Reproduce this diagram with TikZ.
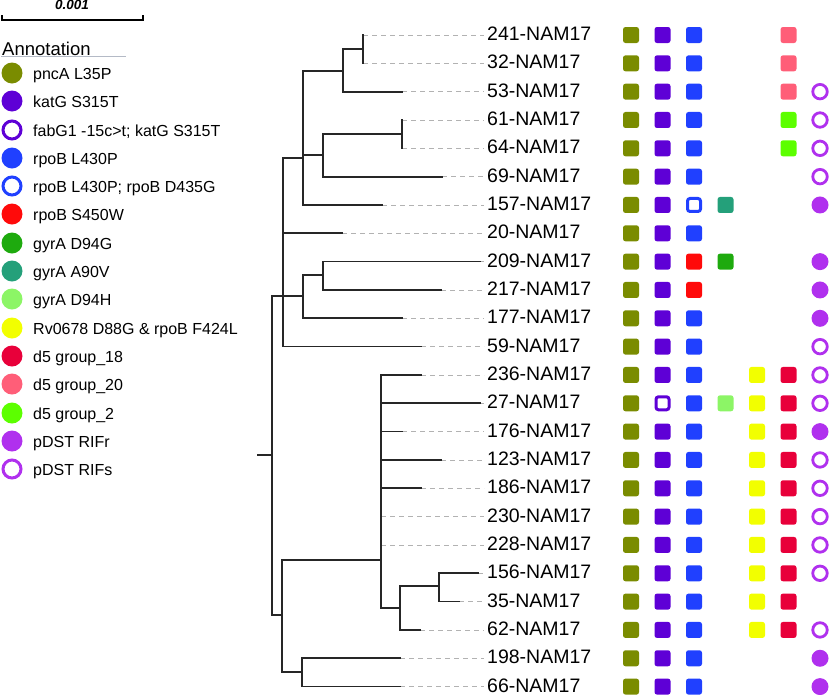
\documentclass[tikz,border=0pt]{standalone}
\usepackage{fontspec}
\setmainfont{Liberation Sans}
\usetikzlibrary{positioning}
\definecolor{PncColor}{HTML}{7A8C00}
\definecolor{KatColor}{HTML}{5E00D6}
\definecolor{RpoColor}{HTML}{2040FF}
\definecolor{RpwColor}{HTML}{FF0A0A}
\definecolor{GygColor}{HTML}{1EAA0E}
\definecolor{GyvColor}{HTML}{24A07A}
\definecolor{GyhColor}{HTML}{8CF566}
\definecolor{RvColor}{HTML}{F2FF00}
\definecolor{DeaColor}{HTML}{E8003A}
\definecolor{DebColor}{HTML}{FF5E78}
\definecolor{DecColor}{HTML}{5CFF00}
\definecolor{RifColor}{HTML}{B030EE}
\definecolor{RuleGray}{HTML}{B4BAC6}

\tikzset{
  branch/.style={line width=1.7pt, black!85, line cap=rect},
  dashln/.style={line width=0.8pt, black!30, dash pattern=on 5pt off 4pt},
  tiplab/.style={anchor=base west, inner xsep=3pt, inner ysep=0pt, font=\fontsize{19.5}{22}\selectfont},
  lgtxt/.style={anchor=base west, inner xsep=2pt, inner ysep=0pt, font=\fontsize{16}{18}\selectfont},
  sq/.style={rectangle, rounded corners=2.5pt, minimum size=16pt, inner sep=0pt, fill=#1},
  sqo/.style={rectangle, rounded corners=2.5pt, minimum size=13pt, inner sep=0pt, draw=#1, line width=3pt},
  dot/.style={circle, minimum size=17pt, inner sep=0pt, fill=#1},
  ring/.style={circle, minimum size=14.5pt, inner sep=0pt, draw=#1, line width=2.8pt},
  lgdot/.style={circle, minimum size=21pt, inner sep=0pt, fill=#1},
  lgring/.style={circle, minimum size=18pt, inner sep=0pt, draw=#1, line width=3pt},
  pnc/.style={sq=PncColor}, kat/.style={sq=KatColor}, katf/.style={sqo=KatColor},
  rpo/.style={sq=RpoColor}, rpof/.style={sqo=RpoColor}, rpw/.style={sq=RpwColor},
  gyg/.style={sq=GygColor}, gyv/.style={sq=GyvColor}, gyh/.style={sq=GyhColor},
  rvz/.style={sq=RvColor}, dea/.style={sq=DeaColor}, deb/.style={sq=DebColor},
  dec/.style={sq=DecColor}, rifr/.style={dot=RifColor}, rifs/.style={ring=RifColor}
}

\begin{document}
\begin{tikzpicture}[x=1pt, y=-1pt]
  \useasboundingbox (0,0) rectangle (830,694);

  % scale bar
  \coordinate (sb0) at (2,15);
  \coordinate (sb1) at (143,15);
  \draw[line width=1.3pt] (sb0) -- ++(0,5) -| (sb1);
  \node[font=\fontsize{13.5}{15}\selectfont\bfseries\itshape, inner sep=0pt] (sbl) at (72,5) {0.001};

  % legend
  \node[anchor=base west, inner sep=1pt, font=\fontsize{18.5}{20}\selectfont] (ann) at (1,55) {Annotation};
  \draw[RuleGray, line width=1.3pt] (ann.south west) -- ++(125,0);
  \node[lgdot=PncColor] (k1) at (12,73) {};
  \node[lgtxt] (k1t) at (31,79) {pncA L35P};
  \node[lgdot=KatColor] (k2) at (12,101) {};
  \node[lgtxt] (k2t) at (31,107) {katG S315T};
  \node[lgring=KatColor] (k3) at (12,130) {};
  \node[lgtxt] (k3t) at (31,136) {fabG1 -15c>t; katG S315T};
  \node[lgdot=RpoColor] (k4) at (12,158) {};
  \node[lgtxt] (k4t) at (31,164) {rpoB L430P};
  \node[lgring=RpoColor] (k5) at (12,186) {};
  \node[lgtxt] (k5t) at (31,192) {rpoB L430P; rpoB D435G};
  \node[lgdot=RpwColor] (k6) at (12,214) {};
  \node[lgtxt] (k6t) at (31,220) {rpoB S450W};
  \node[lgdot=GygColor] (k7) at (12,243) {};
  \node[lgtxt] (k7t) at (31,249) {gyrA D94G};
  \node[lgdot=GyvColor] (k8) at (12,271) {};
  \node[lgtxt] (k8t) at (31,277) {gyrA A90V};
  \node[lgdot=GyhColor] (k9) at (12,299) {};
  \node[lgtxt] (k9t) at (31,305) {gyrA D94H};
  \node[lgdot=RvColor] (k10) at (12,328) {};
  \node[lgtxt] (k10t) at (31,334) {Rv0678 D88G \& rpoB F424L};
  \node[lgdot=DeaColor] (k11) at (12,356) {};
  \node[lgtxt] (k11t) at (31,362) {d5 group\_18};
  \node[lgdot=DebColor] (k12) at (12,384) {};
  \node[lgtxt] (k12t) at (31,390) {d5 group\_20};
  \node[lgdot=DecColor] (k13) at (12,413) {};
  \node[lgtxt] (k13t) at (31,419) {d5 group\_2};
  \node[lgdot=RifColor] (k14) at (12,441) {};
  \node[lgtxt] (k14t) at (31,447) {pDST RIFr};
  \node[lgring=RifColor] (k15) at (12,469) {};
  \node[lgtxt] (k15t) at (31,475) {pDST RIFs};

  % tips, labels and marker columns
  \foreach \i/\lab/\ex/\mk [evaluate=\i as \y using 35+28.33*\i] in {
    0/241/363/{1/pnc,2/kat,3/rpo,6/deb},
    1/32/363/{1/pnc,2/kat,3/rpo,6/deb},
    2/53/402/{1/pnc,2/kat,3/rpo,6/deb,7/rifs},
    3/61/402/{1/pnc,2/kat,3/rpo,6/dec,7/rifs},
    4/64/402/{1/pnc,2/kat,3/rpo,6/dec,7/rifs},
    5/69/442/{1/pnc,2/kat,3/rpo,7/rifs},
    6/157/382/{1/pnc,2/kat,3/rpof,4/gyv,7/rifr},
    7/20/342/{1/pnc,2/kat,3/rpo},
    8/209/480/{1/pnc,2/kat,3/rpw,4/gyg,7/rifr},
    9/217/441/{1/pnc,2/kat,3/rpw,7/rifr},
    10/177/402/{1/pnc,2/kat,3/rpo,7/rifr},
    11/59/421/{1/pnc,2/kat,3/rpo,7/rifs},
    12/236/421/{1/pnc,2/kat,3/rpo,5/rvz,6/dea,7/rifs},
    13/27/480/{1/pnc,2/katf,3/rpo,4/gyh,5/rvz,6/dea,7/rifs},
    14/176/402/{1/pnc,2/kat,3/rpo,5/rvz,6/dea,7/rifr},
    15/123/441/{1/pnc,2/kat,3/rpo,5/rvz,6/dea,7/rifs},
    16/186/421/{1/pnc,2/kat,3/rpo,5/rvz,6/dea,7/rifs},
    17/230/381/{1/pnc,2/kat,3/rpo,5/rvz,6/dea,7/rifs},
    18/228/381/{1/pnc,2/kat,3/rpo,5/rvz,6/dea,7/rifs},
    19/156/478/{1/pnc,2/kat,3/rpo,5/rvz,6/dea,7/rifs},
    20/35/459/{1/pnc,2/kat,3/rpo,5/rvz,6/dea},
    21/62/420/{1/pnc,2/kat,3/rpo,5/rvz,6/dea,7/rifs},
    22/198/400/{1/pnc,2/kat,3/rpo,7/rifr},
    23/66/400/{1/pnc,2/kat,3/rpo,7/rifr}}{
    \coordinate (e\lab) at (\ex,\y);
    \node[tiplab] (t\lab) at (484,\y+5.5) {\lab-NAM17};
    \draw[dashln] (e\lab) -- (e\lab -| t\lab.west);
    \foreach \c/\s in \mk {
      \node[\s] (m\lab-\c) at ({631+31.5*(\c-1)},\y) {};
    }
  }

  % internal nodes of the tree
  \coordinate (r0) at (258,455);
  \coordinate (root) at (272,455);
  \coordinate (nA) at (283,296);
  \coordinate (nB) at (303,158);
  \coordinate (nB1) at (343,71);
  \coordinate (nB1a) at (363,49);
  \coordinate (nB2) at (323,155);
  \coordinate (nB2a) at (402,134);
  \coordinate (nC) at (303,296);
  \coordinate (nC1) at (323,275);
  \coordinate (nE) at (282,615);
  \coordinate (nD) at (381,560);
  \coordinate (nD1) at (400,608);
  \coordinate (nD2) at (439,586);
  \coordinate (nF) at (302,672);

  % branches
  \draw[branch] (r0) -- (root);
  \draw[branch] (root) |- (nA);
  \draw[branch] (root) |- (nE);
  \draw[branch] (nA) |- (nB);
  \draw[branch] (nA) |- (e20);
  \draw[branch] (nA) |- (nC);
  \draw[branch] (nA) |- (e59);
  \draw[branch] (nB) |- (nB1);
  \draw[branch] (nB) |- (nB2);
  \draw[branch] (nB) |- (e157);
  \draw[branch] (nB1) |- (nB1a);
  \draw[branch] (nB1) |- (e53);
  \draw[branch] (nB1a) |- (e241);
  \draw[branch] (nB1a) |- (e32);
  \draw[branch] (nB2) |- (nB2a);
  \draw[branch] (nB2) |- (e69);
  \draw[branch] (nB2a) |- (e61);
  \draw[branch] (nB2a) |- (e64);
  \draw[branch] (nC) |- (nC1);
  \draw[branch] (nC) |- (e177);
  \draw[branch] (nC1) |- (e209);
  \draw[branch] (nC1) |- (e217);
  \draw[branch] (nE) |- (nD);
  \draw[branch] (nE) |- (nF);
  \draw[branch] (nD) |- (e236);
  \draw[branch] (nD) |- (e27);
  \draw[branch] (nD) |- (e176);
  \draw[branch] (nD) |- (e123);
  \draw[branch] (nD) |- (e186);
  \draw[branch] (nD) |- (e230);
  \draw[branch] (nD) |- (e228);
  \draw[branch] (nD) |- (nD1);
  \draw[branch] (nD1) |- (nD2);
  \draw[branch] (nD1) |- (e62);
  \draw[branch] (nD2) |- (e156);
  \draw[branch] (nD2) |- (e35);
  \draw[branch] (nF) |- (e198);
  \draw[branch] (nF) |- (e66);
\end{tikzpicture}
\end{document}
